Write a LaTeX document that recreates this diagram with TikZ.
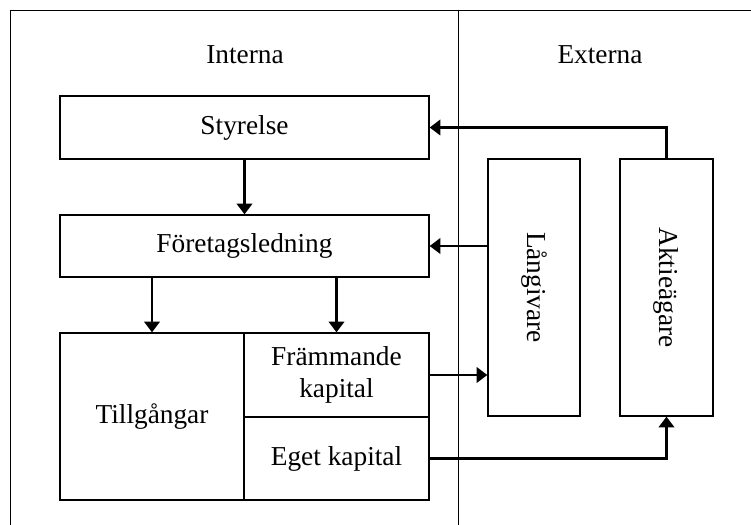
\documentclass[tikz,border=0pt]{standalone}
\usepackage{fontspec}
\setmainfont{Liberation Serif}
\usetikzlibrary{arrows.meta}

\tikzset{every picture/.style={line width=0.75pt}}
\tikzset{
  box/.style={draw, line width=1pt, inner sep=0pt, align=center, font=\fontsize{20.5}{24}\selectfont},
  flow/.style={line width=2.2pt, -{Triangle[length=8pt,width=11.5pt]}},
  head/.style={font=\fontsize{20.5}{24}\selectfont}
}

\begin{document}
\begin{tikzpicture}[x=0.75pt,y=0.75pt,yscale=-1,xscale=1]
        \useasboundingbox (0,0) rectangle (751,525);

        %Straight Lines: frame
        \draw    (10,525) -- (10,10) -- (751,10) ;
        \draw    (458,10) -- (458,525) ;

        % Text Node
        \node [head] (interna) at (245,55) {Interna};
        % Text Node
        \node [head] (externa) at (600,55) {Externa};

        %Shape: Rectangle
        \node [box, minimum width=276.75pt, minimum height=47.25pt] (styrelse) at (244.5,127.5) {Styrelse};
        %Shape: Rectangle
        \node [box, minimum width=276.75pt, minimum height=46.5pt] (ledning) at (244.5,246) {Företagsledning};
        %Shape: Rectangle
        \node [box, minimum width=138pt, minimum height=125.25pt] (tillg) at (152,416.5) {Tillgångar};
        %Shape: Rectangle
        \node [box, minimum width=138.75pt, minimum height=63pt] (framm) at (336.5,375) {Främmande\\kapital};
        %Shape: Rectangle
        \node [box, minimum width=138.75pt, minimum height=62.25pt] (eget) at (336.5,458.5) {Eget kapital};
        %Shape: Rectangle
        \node [box, minimum width=69pt, minimum height=192.75pt] (langiv) at (534,287.5) {\rotatebox{-90}{Långivare}};
        %Shape: Rectangle
        \node [box, minimum width=69.75pt, minimum height=192.75pt] (aktie) at (666.5,287.5) {\rotatebox{-90}{Aktieägare}};

        %Straight Lines
        \draw [flow]   (styrelse.south) -- (ledning.north) ;
        \draw [flow]   (tillg.north |- ledning.south) -- (tillg.north) ;
        \draw [flow]   (framm.north |- ledning.south) -- (framm.north) ;
        \draw [flow]   (ledning.east -| langiv.west) -- (ledning.east) ;
        \draw [flow]   (aktie.north) |- (styrelse.east) ;
        \draw [flow]   (framm.east) -- (framm.east -| langiv.west) ;
        \draw [flow]   (eget.east) -| (aktie.south) ;

\end{tikzpicture}
\end{document}
